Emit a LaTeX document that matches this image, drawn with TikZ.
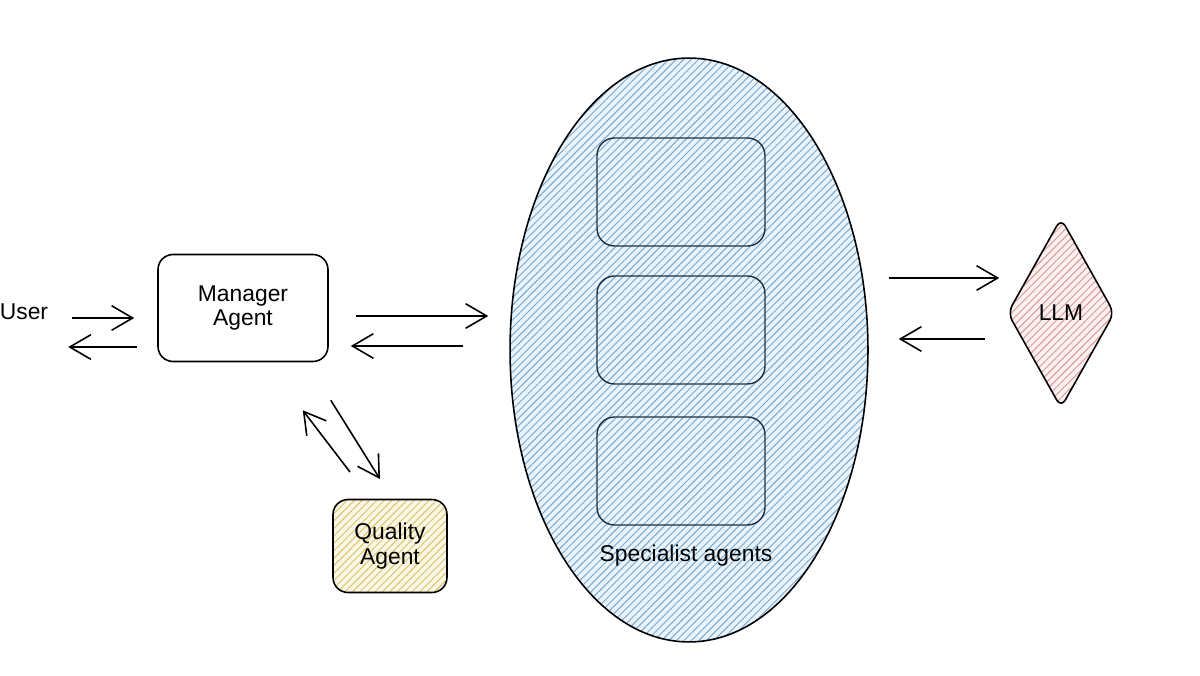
\documentclass[tikz,border=0pt]{standalone}
\usepackage{fontspec}
\setmainfont{Liberation Sans}
\usetikzlibrary{arrows.meta, positioning, shapes.geometric, calc, patterns.meta}
\definecolor{hatchBlue}  {RGB}{112,170,215}
\definecolor{hatchPink}  {RGB}{222,150,150}
\definecolor{hatchYellow}{RGB}{222,196,96}
\definecolor{boxNavy}    {RGB}{32,48,66}
\tikzset{
    agent/.style={draw, line width=0.9pt, rounded corners=0.3cm, align=center, font=\fontsize{13}{14}\selectfont},
    hatch/.style={preaction={fill=#1!14!white}, pattern={Lines[angle=45,distance=3pt,line width=0.55pt]}, pattern color=#1},
    flow/.style={line width=0.9pt, -{Straight Barb[length=12pt,width=14pt]}},
}

\begin{document}
\begin{tikzpicture}[x=0.02cm, y=-0.02cm]
        \useasboundingbox (0,0) rectangle (1200,676);
        \node[font=\fontsize{13}{14}\selectfont, inner sep=1pt] (user) at (24,312) {User};
        \node[agent, minimum width=3.4cm, minimum height=2.14cm] (manager) at (243,308) {Manager\\Agent};
        \node[agent, hatch=hatchYellow, minimum width=2.28cm, minimum height=1.86cm] (quality) at (390,546) {Quality\\Agent};
        \node[ellipse, draw, line width=0.9pt, hatch=hatchBlue, minimum width=7.16cm, minimum height=11.68cm, inner sep=0pt] (specialists) at (689,350) {};
        \foreach \y/\name in {192/spA, 330/spB, 471/spC}
            \node[draw=boxNavy, line width=0.8pt, rounded corners=0.35cm, minimum width=3.36cm, minimum height=2.16cm] (\name) at (681,\y) {};
        \node[font=\fontsize{13}{14}\selectfont] (spectext) at (686,556) {Specialist agents};
        \node[diamond, draw, line width=0.9pt, rounded corners=5pt, hatch=hatchPink, minimum width=2.14cm, minimum height=3.8cm, inner sep=0pt, font=\fontsize{13}{14}\selectfont] (llm) at (1061,313) {LLM};
        \draw[flow, shorten <=0.44cm, shorten >=0.46cm] (user.east |- 0,318) -- (manager.west |- 0,318);
        \draw[flow, shorten <=0.4cm, shorten >=0.36cm] (manager.west |- 0,347) -- (user.east |- 0,347);
        \draw[flow, shorten <=0.54cm, shorten >=0.42cm] (manager.east |- 0,316) -- (specialists.west |- 0,316);
        \draw[flow, shorten <=0.92cm, shorten >=0.44cm] (specialists.west |- 0,346) -- (manager.east |- 0,346);
        \draw[flow, shorten <=0.4cm, shorten >=0.15cm] (specialists.east |- 0,278) -- (llm.west |- 0,278);
        \draw[flow, shorten <=0.44cm, shorten >=0.6cm] (llm.west |- 0,339) -- (specialists.east |- 0,339);
        \draw[flow] ($(manager.south east)+(2,38)$) -- ($(quality.north)+(-10,-20)$);
        \draw[flow] ($(quality.north)+(-40,-27)$) -- ($(manager.south east)+(-26,48)$);
    \end{tikzpicture}
\end{document}
